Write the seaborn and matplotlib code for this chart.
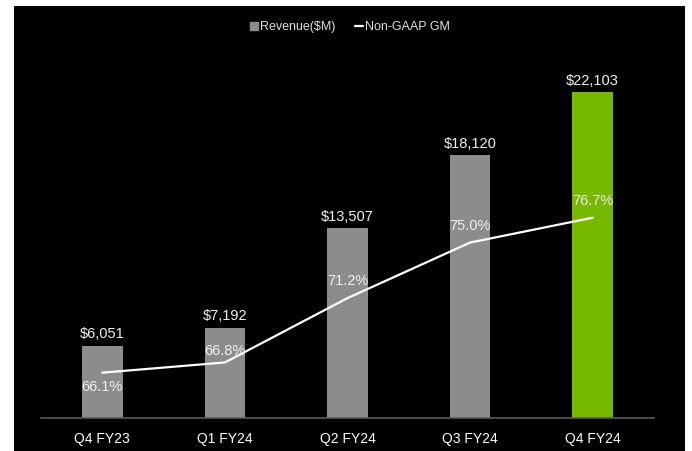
import matplotlib
matplotlib.use("Agg")
import matplotlib.pyplot as plt
from matplotlib.patches import Rectangle
from matplotlib.lines import Line2D
import numpy as np
import seaborn as sns

quarters = ["Q4 FY23", "Q1 FY24", "Q2 FY24", "Q3 FY24", "Q4 FY24"]
revenue = [6051, 7192, 13507, 18120, 22103]
gross_margin = [66.1, 66.8, 71.2, 75.0, 76.7]
bar_colors = ["#8c8c8c", "#8c8c8c", "#8c8c8c", "#8c8c8c", "#76b900"]
# vertical offset (points) of each margin label from its point
gm_label_offset = [-10, 8, 12, 12, 12]

sns.set_theme(style="dark")
plt.rcParams["font.family"] = ["Liberation Sans", "DejaVu Sans"]

fig = plt.figure(figsize=(6.92, 4.51), dpi=100, facecolor="white")
# black panel behind the chart
fig.patches.append(Rectangle((14 / 692, 0), 671 / 692, 445 / 451,
                             transform=fig.transFigure, facecolor="black",
                             edgecolor="none", zorder=-10))

ax = fig.add_axes([41 / 692, 33 / 451, 613 / 692, 378 / 451])
ax.set_facecolor("none")

sns.barplot(x=quarters, y=revenue, hue=quarters, palette=bar_colors,
            legend=False, width=0.33, saturation=1, linewidth=0,
            edgecolor="none", ax=ax)
ax.set_xlim(-0.5, 4.5)
rev_floor = 1460
ax.set_ylim(rev_floor, rev_floor + 378 * 63.4)
ax.set_xlabel("")
ax.set_ylabel("")
ax.set_yticks([])
ax.grid(False)
for s in ["top", "right", "left"]:
    ax.spines[s].set_visible(False)
ax.spines["bottom"].set_color("#5a5a5a")
ax.spines["bottom"].set_linewidth(1.2)
ax.tick_params(axis="x", colors="white", labelsize=10, length=0, pad=10)

for i, v in enumerate(revenue):
    ax.annotate(f"${v:,}", (i, v), xytext=(0, 3), textcoords="offset points",
                ha="center", va="bottom", color="#f0f0f0", fontsize=10.5)

ax2 = ax.twinx()
ax2.set_position(ax.get_position())
sns.lineplot(x=np.arange(len(quarters)), y=gross_margin, color="white",
             linewidth=1.6, ax=ax2)
ax2.set_ylim(63.0, 63.0 + 378 / 14.62)
ax2.set_yticks([])
ax2.set_ylabel("")
ax2.grid(False)
for s in ax2.spines.values():
    s.set_visible(False)

for i, (v, dy) in enumerate(zip(gross_margin, gm_label_offset)):
    ax2.annotate(f"{v:.1f}%", (i, v), xytext=(0, dy),
                 textcoords="offset points", ha="center", va="center",
                 color="#f0f0f0", fontsize=10.5)

handles = [
    Line2D([], [], marker="s", linestyle="none", color="#8c8c8c", markersize=6),
    Line2D([], [], color="white", linewidth=1.6),
]
fig.legend(handles, ["Revenue($M)", "Non-GAAP GM"], loc="center",
           bbox_to_anchor=(350 / 692, 1 - 27 / 451), ncol=2, frameon=False,
           handlelength=0.6, handletextpad=0.15, columnspacing=1.6,
           labelcolor="#e0e0e0", fontsize=9)

fig.savefig("out.png", dpi=100, facecolor="white")
